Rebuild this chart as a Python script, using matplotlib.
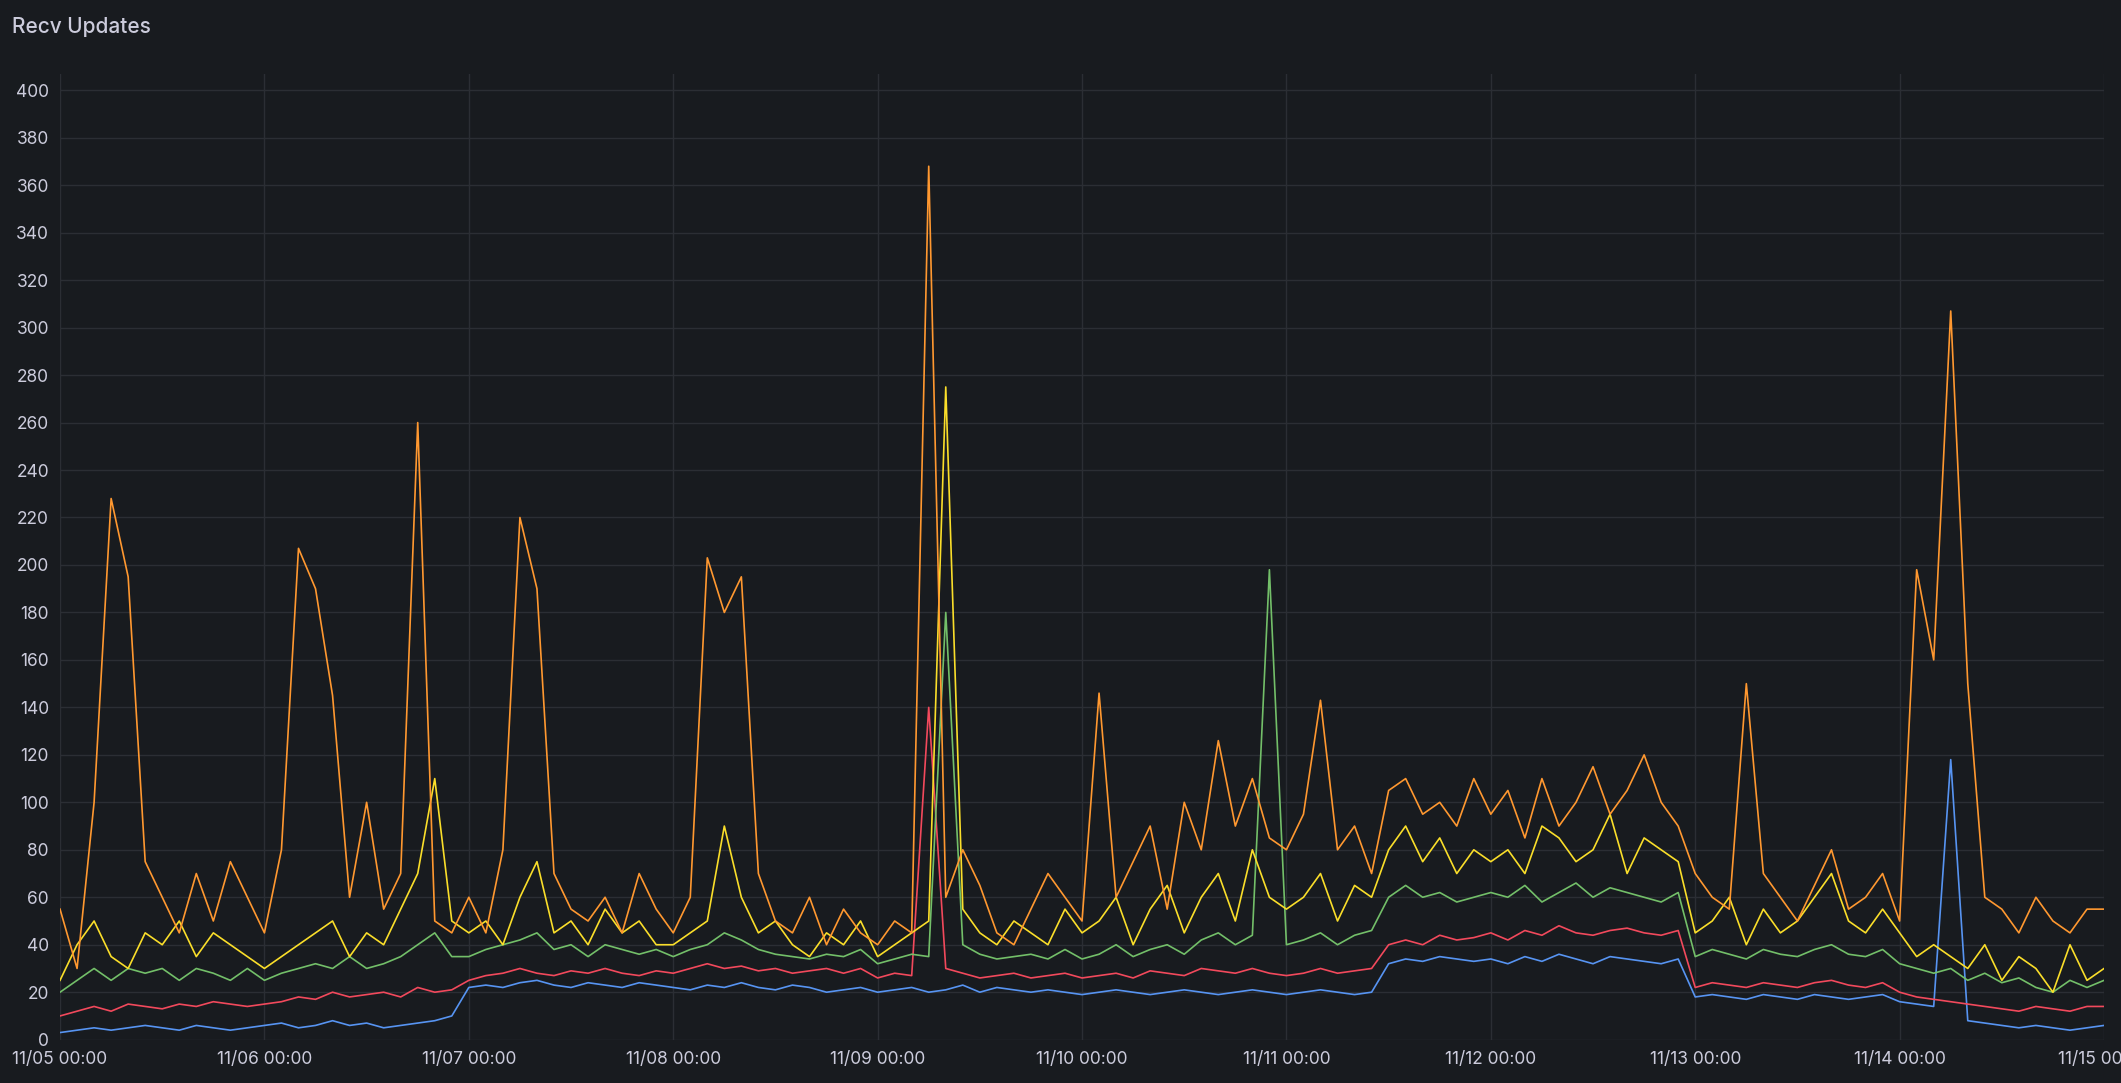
import matplotlib
matplotlib.use('Agg')
import matplotlib.pyplot as plt
import numpy as np

plt.rcParams['font.family'] = ['Inter', 'DejaVu Sans']

# 2-hourly samples, 11/05 00:00 .. 11/15 00:00
hours = np.arange(0, 241, 2)

orange = [55, 30, 100, 228, 195, 75, 60, 45, 70, 50, 75, 60,
          45, 80, 207, 190, 145, 60, 100, 55, 70, 260, 50, 45,
          60, 45, 80, 220, 190, 70, 55, 50, 60, 45, 70, 55,
          45, 60, 203, 180, 195, 70, 50, 45, 60, 40, 55, 45,
          40, 50, 45, 368, 60, 80, 65, 45, 40, 55, 70, 60,
          50, 146, 60, 75, 90, 55, 100, 80, 126, 90, 110, 85,
          80, 95, 143, 80, 90, 70, 105, 110, 95, 100, 90, 110,
          95, 105, 85, 110, 90, 100, 115, 95, 105, 120, 100, 90,
          70, 60, 55, 150, 70, 60, 50, 65, 80, 55, 60, 70,
          50, 198, 160, 307, 150, 60, 55, 45, 60, 50, 45, 55, 55]
yellow = [25, 40, 50, 35, 30, 45, 40, 50, 35, 45, 40, 35,
          30, 35, 40, 45, 50, 35, 45, 40, 55, 70, 110, 50,
          45, 50, 40, 60, 75, 45, 50, 40, 55, 45, 50, 40,
          40, 45, 50, 90, 60, 45, 50, 40, 35, 45, 40, 50,
          35, 40, 45, 50, 275, 55, 45, 40, 50, 45, 40, 55,
          45, 50, 60, 40, 55, 65, 45, 60, 70, 50, 80, 60,
          55, 60, 70, 50, 65, 60, 80, 90, 75, 85, 70, 80,
          75, 80, 70, 90, 85, 75, 80, 95, 70, 85, 80, 75,
          45, 50, 60, 40, 55, 45, 50, 60, 70, 50, 45, 55,
          45, 35, 40, 35, 30, 40, 25, 35, 30, 20, 40, 25, 30]
green = [20, 25, 30, 25, 30, 28, 30, 25, 30, 28, 25, 30,
         25, 28, 30, 32, 30, 35, 30, 32, 35, 40, 45, 35,
         35, 38, 40, 42, 45, 38, 40, 35, 40, 38, 36, 38,
         35, 38, 40, 45, 42, 38, 36, 35, 34, 36, 35, 38,
         32, 34, 36, 35, 180, 40, 36, 34, 35, 36, 34, 38,
         34, 36, 40, 35, 38, 40, 36, 42, 45, 40, 44, 198,
         40, 42, 45, 40, 44, 46, 60, 65, 60, 62, 58, 60,
         62, 60, 65, 58, 62, 66, 60, 64, 62, 60, 58, 62,
         35, 38, 36, 34, 38, 36, 35, 38, 40, 36, 35, 38,
         32, 30, 28, 30, 25, 28, 24, 26, 22, 20, 25, 22, 25]
red = [10, 12, 14, 12, 15, 14, 13, 15, 14, 16, 15, 14,
       15, 16, 18, 17, 20, 18, 19, 20, 18, 22, 20, 21,
       25, 27, 28, 30, 28, 27, 29, 28, 30, 28, 27, 29,
       28, 30, 32, 30, 31, 29, 30, 28, 29, 30, 28, 30,
       26, 28, 27, 140, 30, 28, 26, 27, 28, 26, 27, 28,
       26, 27, 28, 26, 29, 28, 27, 30, 29, 28, 30, 28,
       27, 28, 30, 28, 29, 30, 40, 42, 40, 44, 42, 43,
       45, 42, 46, 44, 48, 45, 44, 46, 47, 45, 44, 46,
       22, 24, 23, 22, 24, 23, 22, 24, 25, 23, 22, 24,
       20, 18, 17, 16, 15, 14, 13, 12, 14, 13, 12, 14, 14]
blue = [3, 4, 5, 4, 5, 6, 5, 4, 6, 5, 4, 5,
        6, 7, 5, 6, 8, 6, 7, 5, 6, 7, 8, 10,
        22, 23, 22, 24, 25, 23, 22, 24, 23, 22, 24, 23,
        22, 21, 23, 22, 24, 22, 21, 23, 22, 20, 21, 22,
        20, 21, 22, 20, 21, 23, 20, 22, 21, 20, 21, 20,
        19, 20, 21, 20, 19, 20, 21, 20, 19, 20, 21, 20,
        19, 20, 21, 20, 19, 20, 32, 34, 33, 35, 34, 33,
        34, 32, 35, 33, 36, 34, 32, 35, 34, 33, 32, 34,
        18, 19, 18, 17, 19, 18, 17, 19, 18, 17, 18, 19,
        16, 15, 14, 118, 8, 7, 6, 5, 6, 5, 4, 5, 6]

days = ['11/%02d 00:00' % d for d in range(5, 16)]

bg = '#181b1f'
txt = '#ccccdc'
fig = plt.figure(figsize=(21.21, 10.83), dpi=100, facecolor=bg)
ax = fig.add_axes([0.0283, 0.040, 0.9637, 0.892], facecolor=bg)

for vals, col in [(blue, '#5794F2'), (red, '#F2495C'), (green, '#73BF69'),
                  (yellow, '#FADE2A'), (orange, '#FF9830')]:
    ax.plot(hours, vals, color=col, lw=1.2)

ax.set_xlim(0, 240)
ax.set_ylim(0, 407)
ax.set_yticks(range(0, 401, 20))
ax.set_xticks(range(0, 241, 24))
ax.set_xticklabels(days)
ax.grid(True, color='#2b2e34', lw=1)
ax.set_axisbelow(True)
for s in ax.spines.values():
    s.set_visible(False)
ax.tick_params(colors=txt, labelsize=12.5, length=0, pad=8)

fig.text(0.0057, 0.975, 'Recv Updates', color=txt, fontsize=15, weight='medium',
         va='center', ha='left')

fig.savefig('out.png', facecolor=bg)
